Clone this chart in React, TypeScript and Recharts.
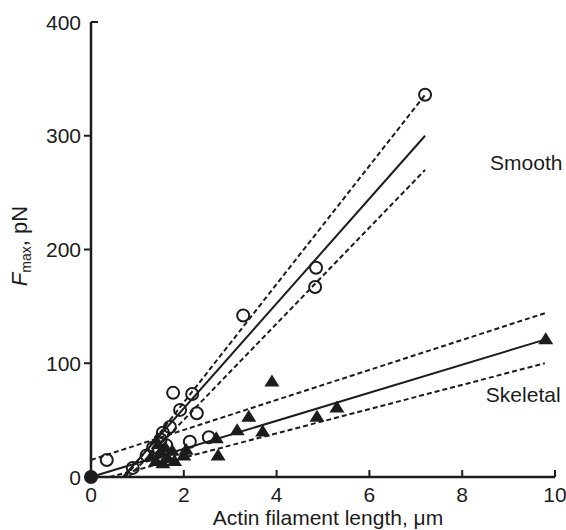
import React from "react";
import { ScatterChart, Scatter, XAxis, YAxis, ReferenceDot } from "recharts";

const INK = "#1c1c1c";
const FONT = "'Liberation Sans', Arial, Helvetica, sans-serif";

const xTicks = [0, 2, 4, 6, 8, 10];
const yTicks = [0, 100, 200, 300, 400];

// open circles (smooth muscle myosin)
const smoothPoints = [
  { x: 0.34, y: 15 },
  { x: 0.9, y: 8 },
  { x: 1.2, y: 19 },
  { x: 1.34, y: 26 },
  { x: 1.45, y: 22 },
  { x: 1.5, y: 33 },
  { x: 1.55, y: 39 },
  { x: 1.62, y: 28 },
  { x: 1.7, y: 44 },
  { x: 1.77, y: 74 },
  { x: 1.92, y: 59 },
  { x: 2.13, y: 31 },
  { x: 2.18, y: 73 },
  { x: 2.28, y: 56 },
  { x: 2.54, y: 35 },
  { x: 3.28, y: 142 },
  { x: 4.85, y: 184 },
  { x: 4.83, y: 167 },
  { x: 7.2, y: 336 },
];

// filled triangles (skeletal muscle myosin)
const skeletalPoints = [
  { x: 1.3, y: 18 },
  { x: 1.4, y: 14 },
  { x: 1.45, y: 29 },
  { x: 1.5, y: 22 },
  { x: 1.55, y: 12 },
  { x: 1.6, y: 26 },
  { x: 1.65, y: 17 },
  { x: 1.75, y: 23 },
  { x: 1.8, y: 14 },
  { x: 2.0, y: 19 },
  { x: 2.05, y: 24 },
  { x: 2.74, y: 19 },
  { x: 2.7, y: 34 },
  { x: 3.15, y: 41 },
  { x: 3.4, y: 53 },
  { x: 3.7, y: 40 },
  { x: 3.9, y: 84 },
  { x: 4.87, y: 53 },
  { x: 5.3, y: 61 },
  { x: 9.8, y: 121 },
];

const originPoint = [{ x: 0, y: 0 }];

// regression lines and confidence limits
const smoothFit = [{ x: 0.69, y: 0 }, { x: 7.2, y: 300 }];
const smoothUpper = [{ x: 0.74, y: 0 }, { x: 7.2, y: 336 }];
const smoothLower = [{ x: 0.81, y: 0 }, { x: 7.2, y: 270 }];
const skeletalFit = [{ x: 0, y: 0 }, { x: 9.8, y: 121 }];
const skeletalUpper = [{ x: 0, y: 15 }, { x: 9.78, y: 144 }];
const skeletalLower = [{ x: 0.4, y: 0 }, { x: 9.78, y: 100 }];

const smoothLabelAt = { x: 8.6, y: 276 };
const skeletalLabelAt = { x: 8.51, y: 72 };

const noMark = () => <g />;

const OpenCircle = (p: any) => (
  <circle cx={p.cx} cy={p.cy} r={6} fill="none" stroke={INK} strokeWidth={2} />
);

const Triangle = (p: any) => (
  <path
    d={`M${p.cx},${p.cy - 7} L${p.cx + 7.5},${p.cy + 5} L${p.cx - 7.5},${p.cy + 5} Z`}
    fill={INK}
  />
);

const Dot = (p: any) => <circle cx={p.cx} cy={p.cy} r={7} fill={INK} />;

const XTick = (props: any) => {
  const { x, y, payload } = props;
  return (
    <g>
      {payload.value !== 0 && (
        <line x1={x} x2={x} y1={y} y2={y - 7} stroke={INK} strokeWidth={2} />
      )}
      <text x={x} y={y + 25} textAnchor="middle" fontSize={21} fontFamily={FONT} fill={INK}>
        {payload.value}
      </text>
    </g>
  );
};

const YTick = (props: any) => {
  const { x, y, payload } = props;
  const inward = payload.value === 400;
  return (
    <g>
      <line
        x1={inward ? x + 7 : x - 7}
        x2={x}
        y1={y}
        y2={y}
        stroke={INK}
        strokeWidth={2}
      />
      <text x={x - 10} y={y + 7.5} textAnchor="end" fontSize={21} fontFamily={FONT} fill={INK}>
        {payload.value}
      </text>
    </g>
  );
};

const YLabel = () => (
  <text
    x={27}
    y={246}
    transform="rotate(-90, 27, 246)"
    textAnchor="middle"
    fontSize={22}
    fontFamily={FONT}
    fill={INK}
  >
    <tspan fontStyle="italic">F</tspan>
    <tspan fontSize={14} dy={4}>max</tspan>
    <tspan dy={-4}>, pN</tspan>
  </text>
);

const textLabel = (text: string) => (props: any) => (
  <text
    x={props.viewBox.x}
    y={props.viewBox.y + 7}
    textAnchor="start"
    fontSize={21}
    fontFamily={FONT}
    fill={INK}
  >
    {text}
  </text>
);

const lineStyle = { stroke: INK, strokeWidth: 2 };
const dashStyle = { stroke: INK, strokeWidth: 2, strokeDasharray: "5 3" };

export default function App() {
  return (
    <div style={{ position: "absolute", left: 0, top: 0, background: "#fff" }}>
      <ScatterChart
        width={566}
        height={530}
        margin={{ top: 22, right: 11, left: 0, bottom: 0 }}
      >
        <XAxis
          dataKey="x"
          type="number"
          domain={[0, 10]}
          ticks={xTicks}
          height={53}
          tickSize={0}
          tickMargin={0}
          tickLine={false}
          axisLine={{ stroke: INK, strokeWidth: 2.5 }}
          tick={<XTick />}
          label={{
            value: "Actin filament length, \u03bcm",
            position: "insideBottom",
            offset: 5,
            fontSize: 21,
            fontFamily: FONT,
            fill: INK,
            dx: 5,
          }}
        />
        <YAxis
          dataKey="y"
          type="number"
          domain={[0, 400]}
          ticks={yTicks}
          width={91}
          tickSize={0}
          tickMargin={0}
          tickLine={false}
          axisLine={{ stroke: INK, strokeWidth: 2.5 }}
          tick={<YTick />}
          label={<YLabel />}
        />

        <Scatter data={smoothUpper} line={dashStyle} shape={noMark} isAnimationActive={false} />
        <Scatter data={smoothFit} line={lineStyle} shape={noMark} isAnimationActive={false} />
        <Scatter data={smoothLower} line={dashStyle} shape={noMark} isAnimationActive={false} />
        <Scatter data={skeletalUpper} line={dashStyle} shape={noMark} isAnimationActive={false} />
        <Scatter data={skeletalFit} line={lineStyle} shape={noMark} isAnimationActive={false} />
        <Scatter data={skeletalLower} line={dashStyle} shape={noMark} isAnimationActive={false} />

        <Scatter data={smoothPoints} shape={OpenCircle} isAnimationActive={false} />
        <Scatter data={skeletalPoints} shape={Triangle} isAnimationActive={false} />
        <Scatter data={originPoint} shape={Dot} isAnimationActive={false} />

        <ReferenceDot
          x={smoothLabelAt.x}
          y={smoothLabelAt.y}
          r={0}
          stroke="none"
          label={textLabel("Smooth")}
        />
        <ReferenceDot
          x={skeletalLabelAt.x}
          y={skeletalLabelAt.y}
          r={0}
          stroke="none"
          label={textLabel("Skeletal")}
        />
      </ScatterChart>
    </div>
  );
}
